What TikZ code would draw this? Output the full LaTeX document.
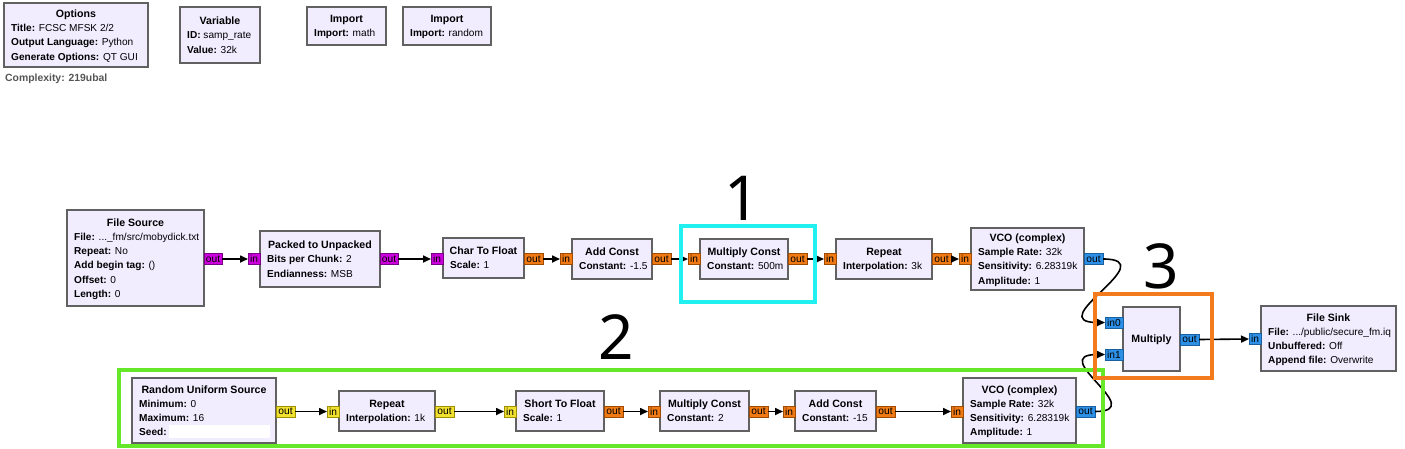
\documentclass[tikz,border=0pt]{standalone}
\usepackage{fontspec}
\setmainfont{Liberation Sans}
\newfontfamily\numfont{Noto Sans}
\usetikzlibrary{arrows.meta}
\definecolor{blkfill}{HTML}{F1EDFF}
\definecolor{blkline}{HTML}{616161}
\definecolor{magfill}{HTML}{CC00DD}
\definecolor{magline}{HTML}{7A0088}
\definecolor{orfill}{HTML}{F07A14}
\definecolor{orline}{HTML}{A04A00}
\definecolor{blfill}{HTML}{2D8FE6}
\definecolor{blline}{HTML}{1A5FA0}
\definecolor{yefill}{HTML}{F0E030}
\definecolor{yeline}{HTML}{A09000}
\definecolor{hlcyan}{HTML}{20F0F0}
\definecolor{hlorange}{HTML}{F47A1E}
\definecolor{hlgreen}{HTML}{66E82A}
\definecolor{cplx}{HTML}{555555}
\tikzset{
  blockbox/.style={draw=blkline, fill=blkfill, line width=2pt, inner sep=0pt, outer sep=0pt},
  blocktitle/.style={font=\bfseries\fontsize{10.6}{14.2}\selectfont, inner sep=0pt},
  blocktext/.style={font=\fontsize{10.1}{14.2}\selectfont, inner sep=0pt},
  portbox/.style={line width=0.8pt, inner sep=0pt, outer sep=0pt, font=\fontsize{10.2}{11}\selectfont},
  magp/.style={portbox, draw=magline, fill=magfill},
  orp/.style={portbox, draw=orline, fill=orfill},
  blp/.style={portbox, draw=blline, fill=blfill},
  yep/.style={portbox, draw=yeline, fill=yefill},
  conn/.style={line width=1.6pt, -{Triangle[length=8pt,width=7pt]}},
  hlbox/.style={line width=4pt, inner sep=0pt, outer sep=0pt},
  bignum/.style={font=\numfont\fontsize{62}{70}\selectfont, inner sep=0pt}
}
% name, x1, y1, x2, y2, number of lines, title, parameter lines
\newcommand\blk[8]{%
  \node[blockbox, minimum width={#4-#2}, minimum height={#5-#3}] (#1) at ({(#2+#4)/2},{(#3+#5)/2}) {};
  \pgfmathsetmacro\tbase{(#3+#5)/2 - 7.1*(#6-1) + 3.8}
  \node[blocktitle, anchor=base] (#1-t) at ({(#2+#4)/2}, \tbase) {#7};
  \if\relax\detokenize{#8}\relax\else
  \node[blocktext, anchor=base west] (#1-p) at ({#2+7}, {\tbase+14.2}) {\begin{tabular}[t]{@{}l@{}}#8\end{tabular}};
  \fi
}
% name, x1, y1, x2, y2, label, style
\newcommand\port[7]{%
  \node[#7, minimum width={#4-#2}, minimum height={#5-#3}] (#1) at ({(#2+#4)/2},{(#3+#5)/2}) {#6};
}
\begin{document}
\begin{tikzpicture}[x=1pt,y=-1pt]
\useasboundingbox (0,0) rectangle (1405,448);
\fill[white] (0,0) rectangle (1405,448);

% top row of settings blocks
\blk{opt}{4}{3}{148}{67}{4}{Options}{\textbf{Title:} FCSC MFSK 2/2\\ \textbf{Output Language:} Python\\ \textbf{Generate Options:} QT GUI}
\blk{var}{180}{7}{260}{63}{3}{Variable}{\textbf{ID:} samp\_rate\\ \textbf{Value:} 32k}
\blk{imp1}{307}{7}{386}{45}{2}{Import}{\textbf{Import:} math}
\blk{imp2}{403}{7}{491}{45}{2}{Import}{\textbf{Import:} random}
\node[anchor=base west, inner sep=0pt, text=cplx, font=\bfseries\fontsize{10.4}{12}\selectfont] (cx) at (5,81) {Complexity: 219ubal};

% upper chain
\blk{fsrc}{67}{210}{204}{306}{6}{File Source}{\textbf{File:} ...\_fm/src/mobydick.txt\\ \textbf{Repeat:} No\\ \textbf{Add begin tag:} ()\\ \textbf{Offset:} 0\\ \textbf{Length:} 0}
\blk{p2u}{260}{231}{380}{287}{3}{Packed to Unpacked}{\textbf{Bits per Chunk:} 2\\ \textbf{Endianness:} MSB}
\blk{c2f}{443}{238}{524}{278}{2}{Char To Float}{\textbf{Scale:} 1}
\blk{ac1}{572}{239}{652}{279}{2}{Add Const}{\textbf{Constant:} -1.5}
\blk{mc1}{700}{239}{788}{279}{2}{Multiply Const}{\textbf{Constant:} 500m}
\blk{rep1}{836}{239}{932}{279}{2}{Repeat}{\textbf{Interpolation:} 3k}
\blk{vco1}{971}{228}{1084}{290}{4}{VCO (complex)}{\textbf{Sample Rate:} 32k\\ \textbf{Sensitivity:} 6.28319k\\ \textbf{Amplitude:} 1}
\blk{mul}{1123}{307}{1180}{371}{1}{Multiply}{}
\blk{fsnk}{1261}{306}{1396}{371}{4}{File Sink}{\textbf{File:} .../public/secure\_fm.iq\\ \textbf{Unbuffered:} Off\\ \textbf{Append file:} Overwrite}

% lower chain
\blk{rus}{132}{378}{276}{443}{4}{Random Uniform Source}{\textbf{Minimum:} 0\\ \textbf{Maximum:} 16\\ \textbf{Seed:}}
\node[fill=white, minimum width=101, minimum height=13, inner sep=0pt] (seed) at (219.5,431.5) {};
\blk{rep2}{339}{391}{435}{431}{2}{Repeat}{\textbf{Interpolation:} 1k}
\blk{s2f}{516}{391}{604}{431}{2}{Short To Float}{\textbf{Scale:} 1}
\blk{mc2}{660}{391}{749}{431}{2}{Multiply Const}{\textbf{Constant:} 2}
\blk{ac2}{795}{391}{876}{431}{2}{Add Const}{\textbf{Constant:} -15}
\blk{vco2}{963}{378}{1076}{443}{4}{VCO (complex)}{\textbf{Sample Rate:} 32k\\ \textbf{Sensitivity:} 6.28319k\\ \textbf{Amplitude:} 1}

% ports, upper chain
\port{fsrc-o}{204}{253.5}{222}{264.5}{out}{magp}
\port{p2u-i}{248}{253.5}{260}{264.5}{in}{magp}
\port{p2u-o}{380}{253.5}{398}{264.5}{out}{magp}
\port{c2f-i}{431}{253.5}{443}{264.5}{in}{magp}
\port{c2f-o}{524}{253.5}{543}{264.5}{out}{orp}
\port{ac1-i}{560}{253.5}{572}{264.5}{in}{orp}
\port{ac1-o}{652}{253.5}{671}{264.5}{out}{orp}
\port{mc1-i}{688}{253.5}{700}{264.5}{in}{orp}
\port{mc1-o}{788}{253.5}{807}{264.5}{out}{orp}
\port{rep1-i}{824}{253.5}{836}{264.5}{in}{orp}
\port{rep1-o}{932}{253.5}{951}{264.5}{out}{orp}
\port{vco1-i}{959}{253.5}{971}{264.5}{in}{orp}
\port{vco1-o}{1084}{253.5}{1103}{264.5}{out}{blp}
\port{mul-i0}{1105}{317}{1123}{328}{in0}{blp}
\port{mul-i1}{1105}{349}{1123}{360}{in1}{blp}
\port{mul-o}{1180}{334}{1199}{345}{out}{blp}
\port{fsnk-i}{1249}{333.5}{1261}{344.5}{in}{blp}

% ports, lower chain
\port{rus-o}{276}{406}{295}{417}{out}{yep}
\port{rep2-i}{327}{406}{339}{417}{in}{yep}
\port{rep2-o}{435}{406}{454}{417}{out}{yep}
\port{s2f-i}{504}{406}{516}{417}{in}{yep}
\port{s2f-o}{604}{406}{623}{417}{out}{orp}
\port{mc2-i}{648}{406}{660}{417}{in}{orp}
\port{mc2-o}{749}{406}{768}{417}{out}{orp}
\port{ac2-i}{783}{406}{795}{417}{in}{orp}
\port{ac2-o}{876}{406}{895}{417}{out}{orp}
\port{vco2-i}{951}{406}{963}{417}{in}{orp}
\port{vco2-o}{1076}{406}{1095}{417}{out}{blp}

% connectors
\draw[conn] (fsrc-o.east) -- (p2u-i.west);
\draw[conn] (p2u-o.east) -- (c2f-i.west);
\draw[conn] (c2f-o.east) -- (ac1-i.west);
\draw[conn] (ac1-o.east) -- (mc1-i.west);
\draw[conn] (mc1-o.east) -- (rep1-i.west);
\draw[conn] (rep1-o.east) -- (vco1-i.west);
\draw[conn] (vco1-o.east) .. controls (1165,259) and (1040,322.5) .. (mul-i0.west);
\draw[conn] (vco2-o.east) .. controls (1150,411.5) and (1045,354.5) .. (mul-i1.west);
\draw[conn] (mul-o.east) -- (fsnk-i.west);
\draw[conn] (rus-o.east) -- (rep2-i.west);
\draw[conn] (rep2-o.east) -- (s2f-i.west);
\draw[conn] (s2f-o.east) -- (mc2-i.west);
\draw[conn] (mc2-o.east) -- (ac2-i.west);
\draw[conn] (ac2-o.east) -- (vco2-i.west);

% highlight frames and numbers
\node[hlbox, draw=hlgreen, minimum width=984, minimum height=76] (hl2) at (611,408) {};
\node[hlbox, draw=hlorange, minimum width=117, minimum height=84] (hl3) at (1153.5,336) {};
\node[hlbox, draw=hlcyan, minimum width=134, minimum height=76] (hl1) at (748,264) {};
\node[bignum] (n1) at (742,198) {1};
\node[bignum] (n2) at (616,337.5) {2};
\node[bignum] (n3) at (1161,266) {3};
\end{tikzpicture}
\end{document}
